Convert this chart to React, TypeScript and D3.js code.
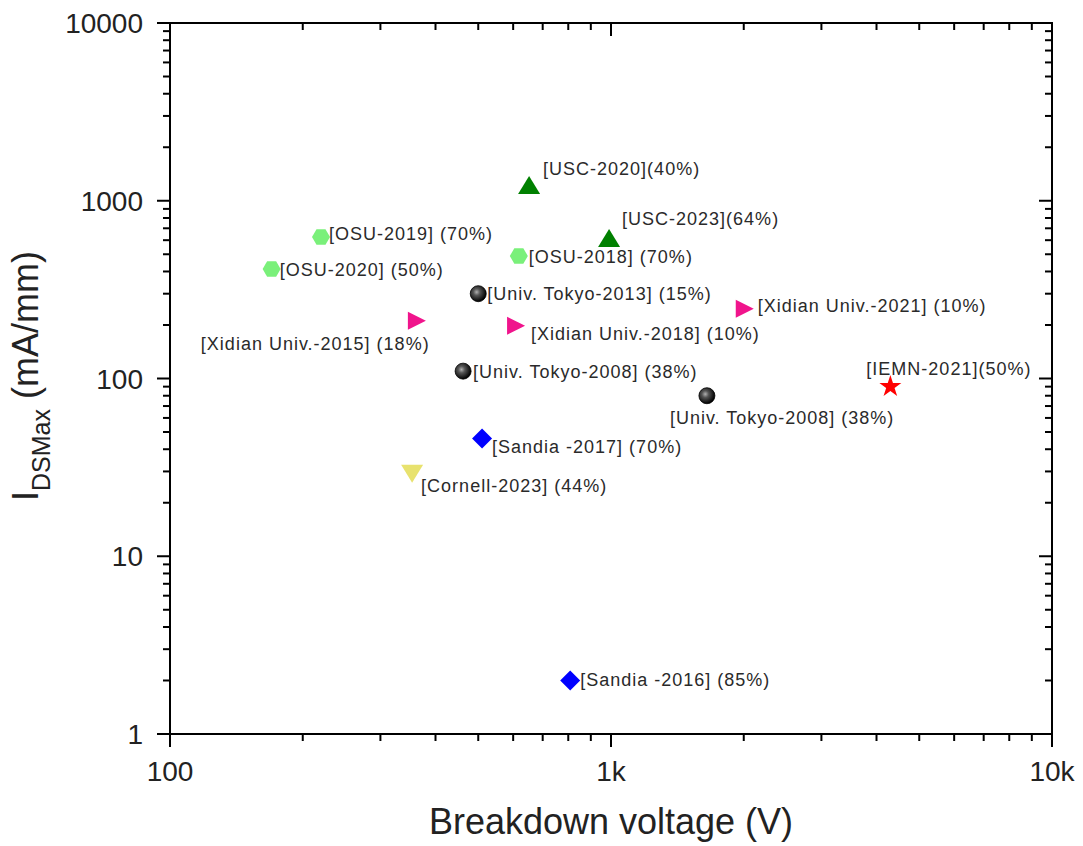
import { scaleLog, symbol, symbolStar } from "d3";

const studies = [
  "[OSU-2019] (70%)",
  "[OSU-2020] (50%)",
  "[OSU-2018] (70%)",
  "[USC-2020](40%)",
  "[USC-2023](64%)",
  "[Univ. Tokyo-2013] (15%)",
  "[Xidian Univ.-2018] (10%)",
  "[Xidian Univ.-2015] (18%)",
  "[Xidian Univ.-2021] (10%)",
  "[Univ. Tokyo-2008] (38%)",
  "[Univ. Tokyo-2008] (38%)",
  "[IEMN-2021](50%)",
  "[Sandia -2017] (70%)",
  "[Cornell-2023] (44%)",
  "[Sandia -2016] (85%)",
];
const breakdownV = [220, 170, 618, 652, 990, 500, 606, 361, 2000, 462, 1650, 4300, 510, 354, 808];
const idsMax = [625, 413, 489, 1210, 609, 300, 198, 211, 247, 110, 80, 90, 46, 29.5, 2];
const groups = [
  "osu", "osu", "osu", "usc", "usc", "tokyo", "xidian", "xidian", "xidian",
  "tokyo", "tokyo", "iemn", "sandia", "cornell", "sandia",
];

const xTickValues = [100, 1000, 10000];
const xTickLabels = ["100", "1k", "10k"];
const yTickValues = [1, 10, 100, 1000, 10000];
const yTickLabels = ["1", "10", "100", "1000", "10000"];

// label placement relative to marker [dx, dy to baseline]
const labelOffsets: [number, number][] = [
  [8, 3], [8, 7], [10, 7], [14, -11], [13, -14], [9, 6], [16, 14], [-215, 29],
  [14, 3], [10, 7], [-37, 28], [-24, -12], [10, 15], [9, 19], [10, 6],
];

const W = 1083;
const H = 846;
const left = 170, right = 1052, top = 23, bottom = 734;
const font = "'Liberation Sans', Arial, sans-serif";

const x = scaleLog().domain([100, 10000]).range([left, right]);
const y = scaleLog().domain([1, 10000]).range([bottom, top]);

function minorTicks(lo: number, hi: number) {
  const out: number[] = [];
  for (let d = lo; d < hi; d *= 10) for (let k = 2; k <= 9; k++) out.push(d * k);
  return out;
}

function hexPath(r: number) {
  const pts = [];
  for (let i = 0; i < 6; i++) {
    const a = (Math.PI / 3) * i;
    pts.push(`${(r * Math.cos(a)).toFixed(2)},${(r * Math.sin(a)).toFixed(2)}`);
  }
  return `M${pts.join("L")}Z`;
}

function Marker({ kind }: { kind: string }) {
  switch (kind) {
    case "osu":
      return <path d={hexPath(9)} fill="#7AF07A" />;
    case "usc":
      return <path d="M0,-10L11,8L-11,8Z" fill="#008000" />;
    case "xidian":
      return <path d="M-8,-9L10,0L-8,9Z" fill="#F0148C" />;
    case "tokyo":
      return <circle r={8} fill="url(#ball)" stroke="#000" strokeWidth={0.8} />;
    case "sandia":
      return <path d="M0,-10L10,0L0,10L-10,0Z" fill="#0000FF" />;
    case "cornell":
      return <path d="M-11,-8L11,-8L0,10Z" fill="#E8E26E" />;
    case "iemn":
      return <path d={symbol(symbolStar, 150)() ?? ""} fill="#FF0000" />;
    default:
      return null;
  }
}

export default function App() {
  const xMinor = minorTicks(100, 10000);
  const yMinor = minorTicks(1, 10000);
  const major = 13;
  const minor = 7;

  return (
    <div style={{ position: "absolute", left: 0, top: 0 }}>
      <svg width={W} height={H} style={{ display: "block", background: "#fff" }} fontFamily={font}>
        <defs>
          <radialGradient id="ball" cx="40%" cy="40%" r="60%">
            <stop offset="0%" stopColor="#b0b0b0" />
            <stop offset="35%" stopColor="#555" />
            <stop offset="100%" stopColor="#000" />
          </radialGradient>
        </defs>

        {/* frame */}
        <rect x={left} y={top} width={right - left} height={bottom - top} fill="none" stroke="#000" strokeWidth={2} />

        {/* x ticks: bottom outward, top inward */}
        {xTickValues.map((v) => (
          <g key={"xm" + v} stroke="#000" strokeWidth={2}>
            <line x1={x(v)} x2={x(v)} y1={bottom} y2={bottom + major} />
            <line x1={x(v)} x2={x(v)} y1={top} y2={top + major} />
          </g>
        ))}
        {xMinor.map((v) => (
          <g key={"xn" + v} stroke="#000" strokeWidth={2}>
            <line x1={x(v)} x2={x(v)} y1={bottom} y2={bottom + minor} />
            <line x1={x(v)} x2={x(v)} y1={top} y2={top + minor} />
          </g>
        ))}

        {/* y ticks: left outward, right inward */}
        {yTickValues.map((v) => (
          <g key={"ym" + v} stroke="#000" strokeWidth={2}>
            <line x1={left - major} x2={left} y1={y(v)} y2={y(v)} />
            <line x1={right - major} x2={right} y1={y(v)} y2={y(v)} />
          </g>
        ))}
        {yMinor.map((v) => (
          <g key={"yn" + v} stroke="#000" strokeWidth={2}>
            <line x1={left - minor} x2={left} y1={y(v)} y2={y(v)} />
            <line x1={right - minor} x2={right} y1={y(v)} y2={y(v)} />
          </g>
        ))}

        {/* tick labels */}
        {xTickValues.map((v, i) => (
          <text key={"xl" + v} x={x(v)} y={bottom + 47} textAnchor="middle" fontSize={28} fill="#222">
            {xTickLabels[i]}
          </text>
        ))}
        {yTickValues.map((v, i) => (
          <text key={"yl" + v} x={left - 27} y={y(v) + 10} textAnchor="end" fontSize={28} fill="#222">
            {yTickLabels[i]}
          </text>
        ))}

        {/* axis titles */}
        <text x={(left + right) / 2} y={834} textAnchor="middle" fontSize={36} fill="#222">
          Breakdown voltage (V)
        </text>
        <text transform="translate(38,376) rotate(-90)" textAnchor="middle" fontSize={36} fill="#222">
          I<tspan fontSize={25} dy={12}>DSMax</tspan>
          <tspan dy={-12}> (mA/mm)</tspan>
        </text>

        {/* points and labels */}
        {studies.map((s, i) => {
          const px = x(breakdownV[i]);
          const py = y(idsMax[i]);
          const [dx, dy] = labelOffsets[i];
          return (
            <g key={i}>
              <g transform={`translate(${px},${py})`}>
                <Marker kind={groups[i]} />
              </g>
              <text x={px + dx} y={py + dy} fontSize={18} letterSpacing={1} fill="#2a2a2a">
                {s}
              </text>
            </g>
          );
        })}
      </svg>
    </div>
  );
}
